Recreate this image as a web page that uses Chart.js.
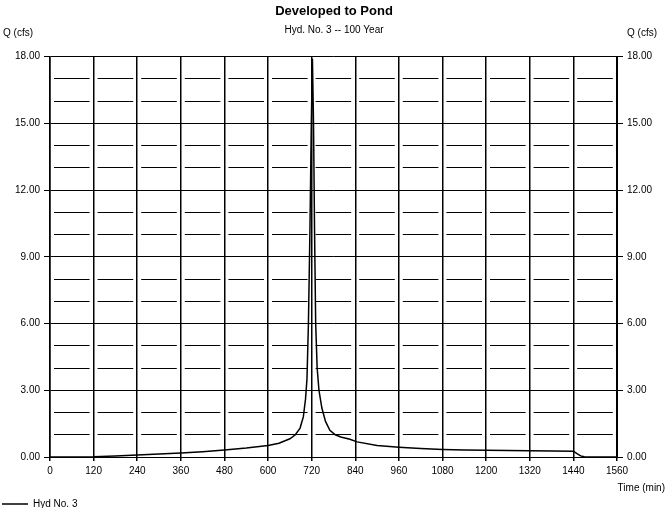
<!DOCTYPE html>
<html>
<head>
<meta charset="utf-8">
<script src="https://cdn.jsdelivr.net/npm/chart.js@4/dist/chart.umd.min.js"></script>
<style>
  html, body { margin: 0; padding: 0; background: #fff; }
  #wrap { width: 668px; height: 508px; }
</style>
</head>
<body>
<div id="wrap"><canvas id="hydChart" width="668" height="508"></canvas></div>
<script>
// Hydrograph values
const timeMin = [0, 60, 120, 180, 240, 300, 360, 420, 480, 540, 600, 630, 660, 675, 688, 697, 703,
  707, 711, 715, 719, 722, 725, 728, 731, 735, 740, 748, 758, 770, 785, 800, 825, 845, 900, 960,
  1020, 1080, 1140, 1200, 1260, 1320, 1380, 1440, 1450, 1460, 1470, 1500, 1560];
const flowCfs = [0, 0, 0.01, 0.05, 0.09, 0.13, 0.18, 0.24, 0.31, 0.40, 0.52, 0.62, 0.82, 1.0, 1.3, 1.8, 2.6,
  3.5, 6.0, 10.0, 15.0, 17.9, 15.0, 10.0, 6.0, 4.0, 3.0, 2.2, 1.6, 1.2, 1.0, 0.9, 0.8, 0.68, 0.52, 0.44,
  0.38, 0.34, 0.32, 0.30, 0.29, 0.28, 0.27, 0.26, 0.15, 0.05, 0.01, 0, 0];
const xTicks = [0, 120, 240, 360, 480, 600, 720, 840, 960, 1080, 1200, 1320, 1440, 1560];
const yTicks = [0, 3, 6, 9, 12, 15, 18];

const FONT = 'Liberation Sans, Arial, sans-serif';

// extra captions: Q (cfs) on both sides and Time (min)
const captionPlugin = {
    id: 'captions',
    afterDraw(chart) {
        const ctx = chart.ctx;
        const area = chart.chartArea;
        ctx.save();
        ctx.fillStyle = '#000';
        ctx.font = '10px ' + FONT;
        ctx.textBaseline = 'middle';
        ctx.textAlign = 'left';
        ctx.fillText('Q (cfs)', 3, 33);
        ctx.fillText('Q (cfs)', 627, 33);
        ctx.textAlign = 'right';
        ctx.fillText('Time (min)', 665, area.bottom + 31);
        ctx.restore();
    }
};

const points = timeMin.map((t, i) => ({ x: t, y: flowCfs[i] }));

const config = {
    type: 'line',
    data: {
        datasets: [{
            label: 'Hyd No. 3',
            data: points,
            borderColor: '#000',
            backgroundColor: '#000',
            borderWidth: 1.5,
            pointRadius: 0,
            tension: 0,
            fill: false
        }]
    },
    options: {
        responsive: false,
        animation: false,
        layout: { padding: { top: 0, right: 0, bottom: -11, left: 0 } },
        scales: {
            x: {
                type: 'linear',
                min: 0,
                max: 1560,
                afterBuildTicks: (axis) => { axis.ticks = xTicks.map(v => ({ value: v })); },
                ticks: { color: '#000', font: { family: FONT, size: 10 }, padding: 4, maxRotation: 0, callback: v => String(v) },
                grid: { color: '#000', lineWidth: 1.5, tickLength: 4 },
                border: { color: '#000', width: 1 },
                afterFit: (axis) => { axis.height = 40; }
            },
            y: {
                position: 'left',
                min: 0,
                max: 18,
                afterBuildTicks: (axis) => { axis.ticks = yTicks.map(v => ({ value: v })); },
                ticks: { color: '#000', font: { family: FONT, size: 10 }, padding: 4, callback: v => v.toFixed(2) },
                grid: { color: '#000', lineWidth: 1, tickLength: 6 },
                border: { color: '#000', width: 1.5 },
                afterFit: (axis) => { axis.width = 50; }
            },
            yRight: {
                position: 'right',
                min: 0,
                max: 18,
                afterBuildTicks: (axis) => { axis.ticks = yTicks.map(v => ({ value: v })); },
                ticks: { color: '#000', font: { family: FONT, size: 10 }, padding: 4, callback: v => v.toFixed(2) },
                grid: { drawOnChartArea: false, color: '#000', lineWidth: 1, tickLength: 6 },
                border: { color: '#000', width: 1 },
                afterFit: (axis) => { axis.width = 51; }
            },
            yMinor: {
                position: 'left',
                min: 0,
                max: 18,
                ticks: { display: false, stepSize: 1 },
                grid: {
                    drawTicks: false,
                    lineWidth: 1,
                    color: (c) => (c.tick && c.tick.value % 3 === 0) ? 'rgba(0,0,0,0)' : '#000'
                },
                border: { display: false, dash: [35.6, 8], dashOffset: 39.6 },
                afterFit: (axis) => { axis.width = 0; }
            }
        },
        plugins: {
            title: {
                display: true,
                text: 'Developed to Pond',
                color: '#000',
                font: { family: FONT, size: 13, weight: 'bold' },
                padding: { top: 4, bottom: 3 }
            },
            subtitle: {
                display: true,
                text: 'Hyd. No. 3 -- 100 Year',
                color: '#000',
                font: { family: FONT, size: 10 },
                padding: { top: 2, bottom: 20 }
            },
            legend: {
                display: true,
                position: 'bottom',
                align: 'start',
                labels: {
                    color: '#000',
                    font: { family: FONT, size: 10 },
                    usePointStyle: true,
                    pointStyle: 'line',
                    pointStyleWidth: 26,
                    boxHeight: 6,
                    padding: 2
                }
            },
            tooltip: { enabled: false }
        }
    },
    plugins: [captionPlugin]
};

new Chart(document.getElementById('hydChart'), config);
</script>
</body>
</html>
